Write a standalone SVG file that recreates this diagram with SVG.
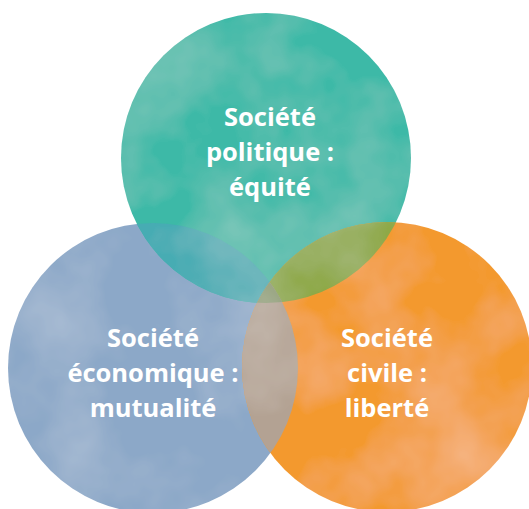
<svg xmlns="http://www.w3.org/2000/svg" width="529" height="509" viewBox="0 0 529 509">
<defs>
<style>
.lbl{font-family:"Open Sans","Noto Sans",sans-serif;font-weight:700;font-size:25.5px;fill:#ffffff;text-anchor:middle}
</style>
<clipPath id="cT"><circle cx="266" cy="158" r="145"/></clipPath>
<clipPath id="cL"><circle cx="153" cy="368" r="145"/></clipPath>
<filter id="wc" x="0" y="0" width="100%" height="100%">
<feTurbulence type="fractalNoise" baseFrequency="0.01" numOctaves="4" seed="7" result="n"/>
<feColorMatrix in="n" type="matrix" values="0 0 0 0 1  0 0 0 0 1  0 0 0 0 1  0 0 0 0.35 -0.14" result="w"/>
<feComposite in="w" in2="SourceGraphic" operator="in" result="wi"/>
<feMerge><feMergeNode in="SourceGraphic"/><feMergeNode in="wi"/></feMerge>
</filter>
</defs>
<rect width="529" height="509" fill="#ffffff"/>
<g filter="url(#wc)">
<g id="economique">
<circle cx="153" cy="368" r="145" fill="#8ca8c8"/>
</g>
<g id="politique">
<circle cx="266" cy="158" r="145" fill="#3cb9a7"/>
</g>
<g id="civile">
<circle cx="387" cy="367" r="145" fill="#f3992f"/>
</g>
<g id="overlaps">
<g clip-path="url(#cT)"><circle cx="153" cy="368" r="145" fill="#46acb3"/></g>
<g clip-path="url(#cT)"><circle cx="387" cy="367" r="145" fill="#8da845"/></g>
<g clip-path="url(#cL)"><circle cx="387" cy="367" r="145" fill="#b3a293"/></g>
<g clip-path="url(#cT)"><g clip-path="url(#cL)"><circle cx="387" cy="367" r="145" fill="#8e9c72"/></g></g>
</g>
</g>
<g id="labels">
<text class="lbl" x="270" y="126">Société</text>
<text class="lbl" x="270" y="161">politique :</text>
<text class="lbl" x="270" y="196">équité</text>
<text class="lbl" x="153" y="347">Société</text>
<text class="lbl" x="153" y="382">économique :</text>
<text class="lbl" x="153" y="417">mutualité</text>
<text class="lbl" x="387" y="347">Société</text>
<text class="lbl" x="387" y="382">civile :</text>
<text class="lbl" x="387" y="417">liberté</text>
</g>
</svg>
